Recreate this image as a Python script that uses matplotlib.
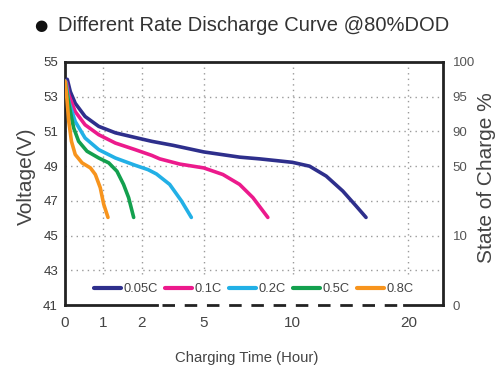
import numpy as np
import matplotlib.pyplot as plt

# x axis is broken: hour ticks are not evenly spaced
tick_hours = [0, 1, 2, 5, 10, 20]
tick_pos = [0, 38, 77, 139, 228, 344]

rates = ["0.05C", "0.1C", "0.2C", "0.5C", "0.8C"]
colors = ["#2e2f8c", "#ec1a8c", "#22b0e6", "#13a04e", "#f7941d"]

t_005 = [0.01, 0.06, 0.14, 0.27, 0.53, 0.89, 1.32, 1.83, 2.48, 3.51, 5.0, 7.02, 8.15,
         9.27, 10.0, 11.47, 12.91, 14.34, 15.49, 16.35]
v_005 = [53.9, 54.0, 53.29, 52.62, 51.86, 51.29, 50.92, 50.65, 50.43, 50.2, 49.82, 49.52,
         49.42, 49.3, 49.22, 49.0, 48.43, 47.57, 46.71, 46.05]

t_01 = [0.01, 0.04, 0.1, 0.27, 0.53, 0.89, 1.32, 1.83, 2.48, 2.87, 3.84, 5.0, 6.08, 7.02,
        7.77, 8.61]
v_01 = [53.9, 53.8, 53.1, 52.14, 51.38, 50.81, 50.33, 49.95, 49.62, 49.42, 49.12, 48.9,
        48.52, 47.95, 47.19, 46.05]

t_02 = [0.01, 0.04, 0.1, 0.27, 0.53, 0.89, 1.32, 1.83, 2.3, 2.71, 3.35, 3.92, 4.4]
v_02 = [53.9, 53.6, 52.71, 51.57, 50.62, 49.95, 49.47, 49.05, 48.8, 48.55, 47.95, 47.0, 46.05]

t_05 = [0.01, 0.05, 0.14, 0.23, 0.36, 0.58, 0.89, 1.15, 1.36, 1.53, 1.66, 1.79]
v_05 = [53.8, 53.2, 52.14, 51.19, 50.43, 49.86, 49.47, 49.19, 48.71, 47.95, 47.19, 46.05]

t_08 = [0.0, 0.01, 0.05, 0.1, 0.17, 0.27, 0.45, 0.67, 0.8, 0.93, 1.02, 1.13]
v_08 = [53.9, 53.76, 52.9, 51.57, 50.43, 49.67, 49.19, 48.9, 48.52, 47.76, 46.81, 46.05]

volt_ticks = [41, 43, 45, 47, 49, 51, 53, 55]
soc_ticks = [55, 53, 51, 49, 45, 41]
soc_labels = ["100", "95", "90", "50", "10", "0"]

series = [(t_005, v_005), (t_01, v_01), (t_02, v_02), (t_05, v_05), (t_08, v_08)]

knots_t = [-10] + tick_hours + [40]
knots_u = [-380] + tick_pos + [576]


def fwd(x):
    return np.interp(x, knots_t, knots_u)


def inv(u):
    return np.interp(u, knots_u, knots_t)


plt.rcParams['font.family'] = ['Liberation Sans', 'DejaVu Sans']

fig = plt.figure(figsize=(5, 3.8), dpi=100)
ax = fig.add_axes([0.13, 0.197, 0.756, 0.64])
ax.set_xscale('function', functions=(fwd, inv))
ax.set_xlim(0, 23)
ax.set_ylim(41, 55)

grid_kw = dict(color='#9a9a9a', lw=1.0, linestyle=(0, (1, 3)), zorder=1)
for v in [43, 45, 47, 49, 51, 53]:
    ax.axhline(v, **grid_kw)
for h in [1, 2, 5, 10, 20]:
    ax.vlines(h, 42.8, 55, **grid_kw)

for (t, v), c, lab in zip(series, colors, rates):
    ax.plot(t, v, color=c, lw=2.6, label=lab, zorder=3, solid_capstyle='round',
            solid_joinstyle='round')

ax.set_xticks(tick_hours)
ax.set_xticklabels([str(h) for h in tick_hours])
ax.set_yticks(volt_ticks)
ax.tick_params(axis='x', length=0, pad=8, labelsize=11, labelcolor='#444444')
ax.tick_params(axis='y', length=0, pad=5, labelsize=9.5, labelcolor='#3a3a3a')

for s in ['left', 'top', 'right']:
    ax.spines[s].set_linewidth(2)
    ax.spines[s].set_color('#222222')
ax.spines['bottom'].set_visible(False)

# broken bottom axis line
ax.plot([0, 2.75], [41, 41], color='#222222', lw=2, clip_on=False, zorder=4)
ax.plot([3.0, 19.6], [41, 41], color='#222222', lw=2, clip_on=False, zorder=4,
        linestyle=(0, (4.5, 3.5)))
ax.plot([19.6, 23], [41, 41], color='#222222', lw=2, clip_on=False, zorder=4)

leg = ax.legend(loc='center', bbox_to_anchor=(0.5, 0.066), ncol=5, frameon=False,
                fontsize=9.3, handlelength=2.1, handletextpad=0.2, columnspacing=0.55,
                borderaxespad=0)
for txt in leg.get_texts():
    txt.set_color('#444444')
for line in leg.get_lines():
    line.set_linewidth(3)

ax2 = ax.twinx()
ax2.set_ylim(41, 55)
ax2.set_yticks(soc_ticks)
ax2.set_yticklabels(soc_labels)
ax2.tick_params(axis='y', length=0, pad=7, labelsize=9.5, labelcolor='#555555')
for s in ax2.spines.values():
    s.set_visible(False)

fig.text(0.082, 0.934, "\u25cf", fontsize=11, color='#111111', ha='center', va='center',
         family='DejaVu Sans')
fig.text(0.116, 0.934, "Different Rate Discharge Curve @80%DOD", fontsize=14.5,
         color='#333333', ha='left', va='center')
fig.text(0.053, 0.537, "Voltage(V)", fontsize=15, color='#444444', rotation=90,
         ha='center', va='center')
fig.text(0.973, 0.532, "State of Charge %", fontsize=15, color='#444444', rotation=90,
         ha='center', va='center')
fig.text(0.493, 0.058, "Charging Time (Hour)", fontsize=10.7, color='#444444',
         ha='center', va='center')

fig.savefig('out.png', dpi=100)
